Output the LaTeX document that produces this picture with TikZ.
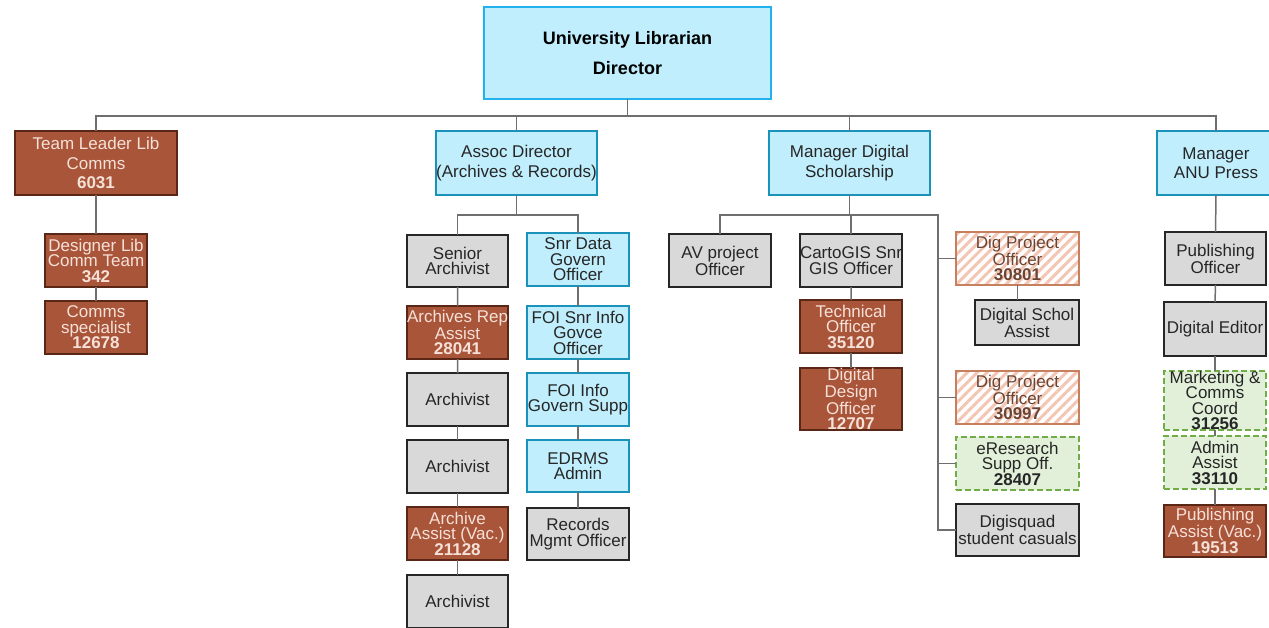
\documentclass[tikz,border=0pt]{standalone}
\usepackage{fontspec}
\setmainfont{Liberation Sans}
\usetikzlibrary{patterns.meta}

\definecolor{boxblue}{HTML}{C0EEFC}
\definecolor{edgeblue}{HTML}{1A92BA}
\definecolor{topedge}{HTML}{22B1EC}
\definecolor{boxgrey}{HTML}{D9D9D9}
\definecolor{boxbrown}{HTML}{A9553A}
\definecolor{edgebrown}{HTML}{5A2616}
\definecolor{textbrown}{HTML}{F6E1D8}
\definecolor{hatchline}{HTML}{F3C6B4}
\definecolor{hatchedge}{HTML}{C6805F}
\definecolor{hatchtext}{HTML}{6B4434}
\definecolor{boxgreen}{HTML}{E2F0D9}
\definecolor{edgegreen}{HTML}{70AD47}
\definecolor{linkgrey}{HTML}{6F6F6F}

% box placed by its top-left and bottom-right corners
\newcommand\orgbox[7]{%
  \pgfmathsetmacro\obw{#5-#3}\pgfmathsetmacro\obh{#6-#4}%
  \node[#1, minimum width=\obw pt, minimum height=\obh pt, anchor=north west] (#2) at (#3,#4) {#7};}

\begin{document}
\begin{tikzpicture}[x=1pt,y=-1pt,
  base/.style={rectangle, inner sep=0pt, outer sep=0pt, align=center, font=\fontsize{17}{15.5}\selectfont},
  head/.style={base, font=\fontsize{17}{19.5}\selectfont},
  topbox/.style={base, fill=boxblue, draw=topedge, line width=2pt, font=\fontsize{18}{30}\selectfont\bfseries},
  bluebox/.style={fill=boxblue, draw=edgeblue, line width=2pt, text=black!85},
  greybox/.style={fill=boxgrey, draw=black!85, line width=1.3pt, text=black!85},
  brownbox/.style={fill=boxbrown, draw=edgebrown, line width=2pt, text=textbrown},
  hatchbox/.style={pattern={Lines[angle=45,distance=7pt,line width=3pt]}, pattern color=hatchline, draw=hatchedge, line width=1.3pt, text=hatchtext},
  greenbox/.style={fill=boxgreen, draw=edgegreen, dashed, dash pattern=on 6pt off 3pt, line width=1.8pt, text=black!85},
  conn/.style={draw=linkgrey, line width=1.5pt}]
\useasboundingbox (0,0) rectangle (1269,627);

% director
\orgbox{topbox}{ul}{484}{7}{771}{99}{University Librarian\\Director}

% second level
\orgbox{head,brownbox}{tl}{15}{131}{177}{195}{Team Leader Lib\\Comms\\\textbf{6031}}
\orgbox{head,bluebox}{ad}{436}{131}{597}{195}{Assoc Director\\(Archives \& Records)}
\orgbox{head,bluebox}{mds}{769}{131}{930}{195}{Manager Digital\\Scholarship}
\orgbox{head,bluebox}{mp}{1157}{131}{1275}{195}{Manager\\ANU Press}

% library communications
\orgbox{base,brownbox}{dl}{45}{234}{147}{287}{Designer Lib\\Comm Team\\\textbf{342}}
\orgbox{base,brownbox}{cs}{45}{301}{147}{354}{Comms\\specialist\\\textbf{12678}}

% archives and records
\orgbox{base,greybox}{sa}{407}{235}{508}{287}{Senior\\Archivist}
\orgbox{base,brownbox}{ara}{407}{306}{508}{359}{Archives Rep\\Assist\\\textbf{28041}}
\orgbox{base,greybox}{ar1}{407}{373}{508}{426}{Archivist}
\orgbox{base,greybox}{ar2}{407}{440}{508}{493}{Archivist}
\orgbox{base,brownbox}{aav}{407}{507}{508}{560}{Archive\\Assist (Vac.)\\\textbf{21128}}
\orgbox{base,greybox}{ar3}{407}{575}{508}{628}{Archivist}
\orgbox{base,bluebox}{sdg}{527}{233}{629}{286}{Snr Data\\Govern\\Officer}
\orgbox{base,bluebox}{foa}{527}{306}{629}{359}{FOI Snr Info\\Govce\\Officer}
\orgbox{base,bluebox}{fob}{527}{373}{629}{426}{FOI Info\\Govern Supp}
\orgbox{base,bluebox}{edr}{527}{440}{629}{492}{EDRMS\\Admin}
\orgbox{base,greybox}{rmo}{527}{508}{629}{560}{Records\\Mgmt Officer}

% digital scholarship
\orgbox{base,greybox}{av}{669}{234}{771}{287}{AV project\\Officer}
\orgbox{base,greybox}{cg}{800}{234}{902}{287}{CartoGIS Snr\\GIS Officer}
\orgbox{base,brownbox}{tof}{800}{300}{902}{353}{Technical\\Officer\\\textbf{35120}}
\orgbox{base,brownbox}{ddo}{800}{368}{902}{421}{Digital\\Design\\Officer\\\textbf{12707}}
\orgbox{base,hatchbox}{dpa}{956}{232}{1079}{285}{Dig Project\\Officer\\\textbf{30801}}
\orgbox{base,greybox}{dsa}{975}{300}{1079}{345}{Digital Schol\\Assist}
\orgbox{base,hatchbox}{dpb}{956}{371}{1079}{424}{Dig Project\\Officer\\\textbf{30997}}
\orgbox{base,greenbox}{ers}{956}{437}{1079}{490}{eResearch\\Supp Off.\\\textbf{28407}}
\orgbox{base,greybox}{dsq}{956}{504}{1079}{556}{Digisquad\\student casuals}

% ANU Press
\orgbox{base,greybox}{po}{1165}{232}{1266}{285}{Publishing\\Officer}
\orgbox{base,greybox}{de}{1164}{302}{1266}{356}{Digital Editor}
\orgbox{base,greenbox}{mcc}{1164}{371}{1266}{424}{Marketing \&\\Comms\\Coord\\\textbf{31256}}
\orgbox{base,greenbox}{aa}{1164}{436}{1266}{489}{Admin\\Assist\\\textbf{33110}}
\orgbox{base,brownbox}{pa}{1164}{505}{1266}{557}{Publishing\\Assist (Vac.)\\\textbf{19513}}

% connectors: director to second level
\path (ul.south) ++(0,17) coordinate (bus);
\draw[conn] (ul.south) -- (bus);
\draw[conn] (bus) -| (tl.north);
\draw[conn] (bus) -| (ad.north);
\draw[conn] (bus) -| (mds.north);
\draw[conn] (bus) -| (mp.north);

% library communications chain
\draw[conn] (tl.south) -- (dl.north);
\draw[conn] (dl.south) -- (cs.north);

% archives and records
\path (ad.south) ++(0,20) coordinate (abus);
\draw[conn] (ad.south) -- (abus);
\draw[conn] (abus) -| (sa.north);
\draw[conn] (abus) -| (sdg.north);
\draw[conn] (sa.south) -- (ara.north);
\draw[conn] (ara.south) -- (ar1.north);
\draw[conn] (ar1.south) -- (ar2.north);
\draw[conn] (ar2.south) -- (aav.north);
\draw[conn] (aav.south) -- (ar3.north);
\draw[conn] (sdg.south) -- (foa.north);
\draw[conn] (foa.south) -- (fob.north);
\draw[conn] (fob.south) -- (edr.north);
\draw[conn] (edr.south) -- (rmo.north);

% digital scholarship
\path (mds.south) ++(0,20) coordinate (dbus);
\path (dbus) ++(88.5,0) coordinate (dv);
\draw[conn] (mds.south) -- (dbus);
\draw[conn] (dbus) -| (av.north);
\draw[conn] (dbus) -| (cg.north);
\draw[conn] (dbus) -- (dv) |- (dsq.west);
\draw[conn] (dv |- dpa.west) -- (dpa.west);
\draw[conn] (dv |- dpb.west) -- (dpb.west);
\draw[conn] (dv |- ers.west) -- (ers.west);
\draw[conn] (cg.south) -- (tof.north);
\draw[conn] (tof.south) -- (ddo.north);
\draw[conn] (dpa.south) -- (dpa.south |- dsa.north);

% ANU Press chain
\draw[conn] (mp.south) -- (po.north);
\draw[conn] (po.south) -- (de.north);
\draw[conn] (de.south) -- (mcc.north);
\draw[conn] (mcc.south) -- (aa.north);
\draw[conn] (aa.south) -- (pa.north);
\end{tikzpicture}
\end{document}
